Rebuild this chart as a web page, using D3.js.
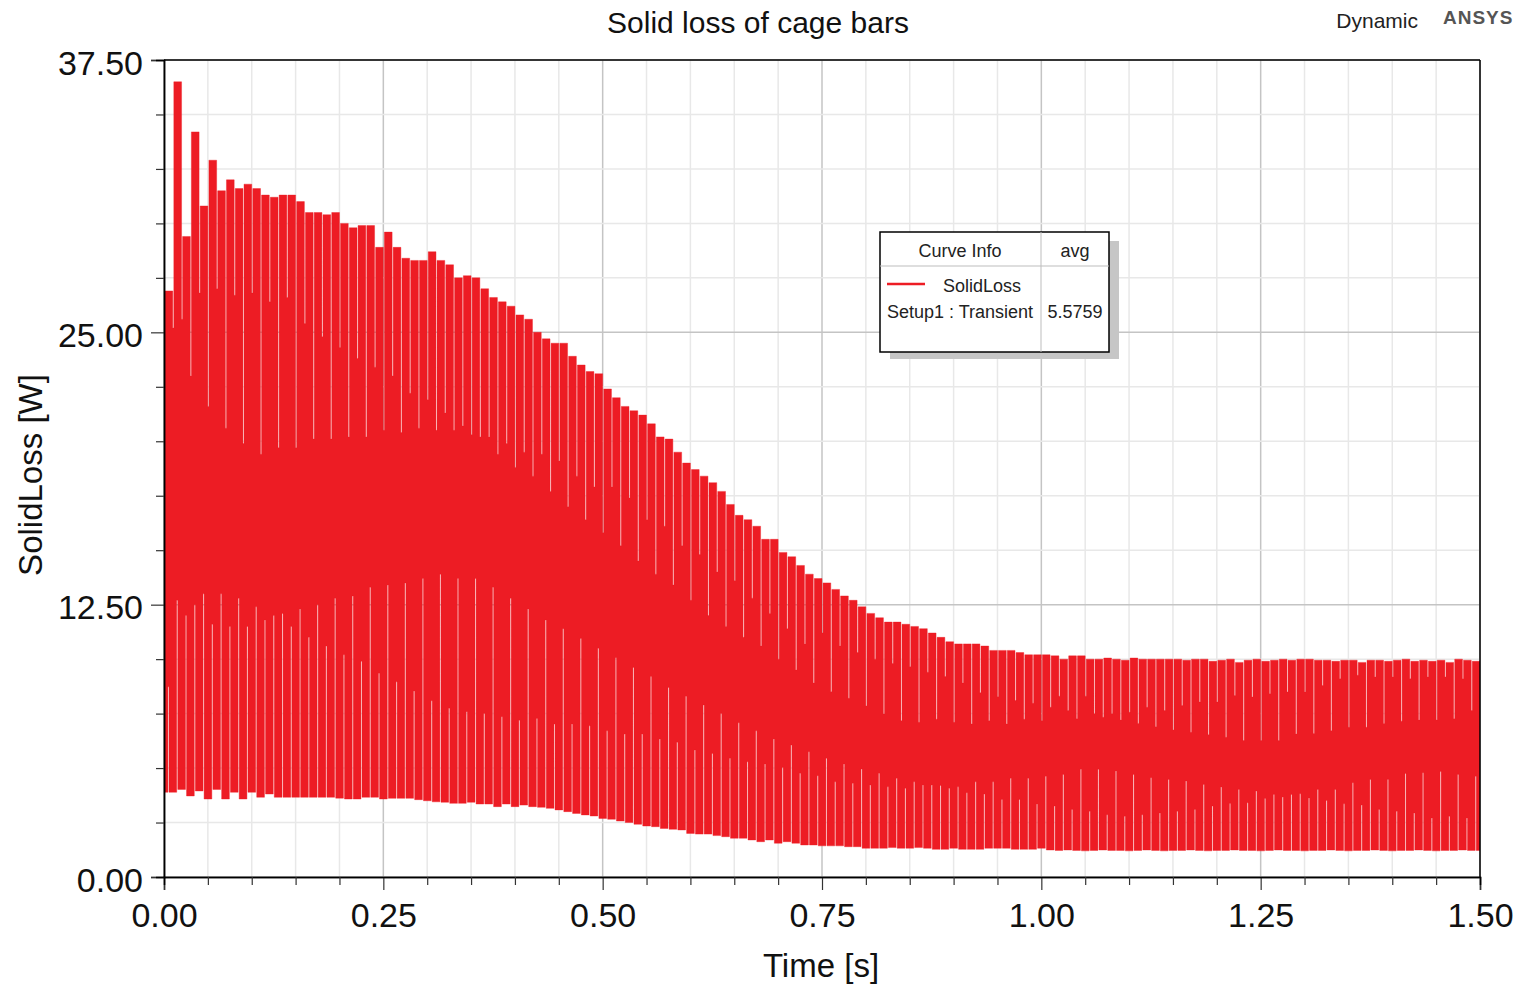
<!DOCTYPE html>
<html><head><meta charset="utf-8">
<script src="https://cdn.jsdelivr.net/npm/d3@7"></script>
<style>
body{margin:0;background:#fff;}
text{font-family:"Liberation Sans", Arial, sans-serif;}
</style>
</head><body>
<svg id="chart" width="1519" height="986"></svg>
<script>
// ---------------- data ----------------
const chartTitle = "Solid loss of cage bars";
const xLabel = "Time [s]";
const yLabel = "SolidLoss [W]";
const xMajorTicks = [0, 0.25, 0.5, 0.75, 1.0, 1.25, 1.5];
const yMajorTicks = [0, 12.5, 25, 37.5];
const legendCurve = "SolidLoss";
const legendSetup = "Setup1 : Transient";
const legendAvg = "5.5759";

// one entry per 0.01 s electrical cycle (150 cycles, 0 .. 1.5 s)
const cyclePeriod = 0.01;
const startLoss = 0;
// upper envelope: peak of each cycle [W]
const cyclePeak = [
26.9,36.5,29.4,34.2,30.8,32.9,31.5,32.0,31.6,31.8,
31.6,31.3,31.2,31.3,31.3,31.0,30.5,30.5,30.4,30.5,
30.0,29.8,29.9,29.9,28.9,29.6,28.9,28.4,28.3,28.3,
28.7,28.3,28.1,27.5,27.6,27.5,27.0,26.6,26.4,26.2,
25.8,25.6,25.0,24.7,24.5,24.5,23.9,23.5,23.2,23.1,
22.4,22.0,21.6,21.4,21.2,20.8,20.2,20.1,19.5,19.0,
18.7,18.4,18.1,17.7,17.1,16.6,16.4,16.1,15.5,15.5,
14.9,14.7,14.3,13.9,13.7,13.5,13.2,12.9,12.7,12.4,
12.1,11.9,11.7,11.7,11.6,11.5,11.4,11.2,11.0,10.8,
10.7,10.7,10.7,10.6,10.4,10.4,10.4,10.3,10.2,10.2,
10.2,10.15,10.0,10.15,10.15,10.0,10.0,10.05,10.0,9.95,
10.05,10.0,10.0,10.0,10.0,10.0,9.95,10.0,10.0,9.9,
9.95,10.0,9.85,9.95,10.0,9.9,9.95,10.0,9.95,10.0,
10.0,9.95,9.95,9.9,9.95,9.95,9.85,9.95,9.95,9.9,
9.95,10.0,9.9,9.95,9.9,9.95,9.85,10.0,9.95,9.9
];
// depth of the short drop just before each peak [W]
const cycleTopDip = [
26.9,25.2,25.6,23.0,26.8,21.6,27.0,20.6,26.7,19.9,
26.8,19.4,26.4,19.7,26.6,19.7,25.4,20.1,24.8,20.1,
24.3,20.2,23.8,20.2,23.4,20.5,23.0,20.4,22.2,20.6,
21.9,20.5,21.3,20.5,20.7,20.3,20.2,20.2,19.4,19.9,
18.8,19.5,18.4,19.4,17.7,19.1,17.0,18.4,16.4,17.9,
15.8,17.9,15.2,17.4,14.5,16.4,13.9,16.1,13.4,15.2,
12.7,14.8,12.0,14.0,11.5,13.6,11.0,12.8,10.6,12.1,
10.0,11.4,9.5,10.7,8.9,11.2,8.5,10.6,8.2,10.3,
7.85,10.0,7.48,9.8,7.17,9.65,7.1,9.4,7.24,9.2,
7.1,8.9,7.02,8.46,7.17,8.27,7.02,8.1,7.24,7.97,
7.17,7.79,8.3,7.64,7.26,8.3,7.49,7.33,7.49,7.21,
7.56,7.05,7.79,6.90,7.64,6.75,7.87,6.64,8.03,6.53,
8.03,6.41,8.33,6.26,8.26,6.26,8.41,6.26,8.49,6.56,
8.49,6.59,8.79,6.71,9.10,6.87,9.26,6.87,9.18,7.05,
9.18,7.15,9.10,7.21,9.18,7.21,9.18,7.26,9.10,7.64
];
// height of the short rise inside each trough [W]
const cycleBottomRise = [
8.73,12.7,12.0,12.5,13.0,11.6,13.0,11.5,12.8,11.5,
12.4,11.8,12.0,12.1,11.5,12.3,11.0,12.5,10.6,12.8,
10.2,12.9,9.9,13.3,9.35,13.4,8.96,13.5,8.54,13.7,
8.09,13.9,7.74,13.7,7.59,13.7,7.51,13.3,7.36,12.8,
7.2,12.3,7.28,11.8,7.02,11.4,7.02,10.95,6.94,10.5,
6.71,10.06,6.56,9.62,6.56,9.2,6.33,8.7,6.18,8.3,
5.83,7.9,5.67,7.51,5.45,7.08,5.29,6.71,5.19,6.33,
5.03,6.06,4.76,5.75,4.65,5.45,4.37,5.19,4.30,4.96,
4.22,4.76,4.14,4.53,4.07,4.37,4.22,4.22,4.2,4.07,
4.14,3.87,4.37,3.81,4.37,3.56,4.53,3.56,4.53,3.35,
4.63,3.26,4.71,3.1,4.94,3.02,4.94,2.86,4.86,2.79,
4.71,2.86,4.56,2.94,4.48,3.02,4.41,3.1,4.25,3.26,
4.13,3.37,4.02,3.41,3.95,3.6,3.79,3.67,3.79,3.82,
3.63,4.02,3.51,4.02,3.36,4.33,3.3,4.48,3.1,4.48,
3.02,4.75,2.94,4.79,2.71,4.84,2.79,4.71,2.71,4.63
];
// lower envelope: trough of each cycle [W]
const cycleTrough = [
3.89,4.02,3.72,3.95,3.58,4.02,3.58,3.89,3.58,3.89,
3.66,3.81,3.66,3.66,3.66,3.66,3.66,3.66,3.66,3.62,
3.58,3.58,3.66,3.66,3.58,3.61,3.61,3.61,3.55,3.50,
3.45,3.43,3.38,3.38,3.43,3.35,3.35,3.23,3.35,3.23,
3.30,3.23,3.20,3.15,3.08,3.0,2.92,2.85,2.80,2.69,
2.65,2.57,2.50,2.42,2.34,2.31,2.23,2.19,2.16,2.0,
1.97,1.97,1.90,1.85,1.78,1.78,1.70,1.62,1.70,1.55,
1.62,1.55,1.47,1.47,1.43,1.43,1.43,1.39,1.39,1.32,
1.32,1.32,1.35,1.32,1.32,1.35,1.32,1.27,1.27,1.32,
1.27,1.27,1.27,1.32,1.32,1.32,1.27,1.27,1.27,1.32,
1.24,1.22,1.24,1.22,1.20,1.22,1.24,1.22,1.22,1.20,
1.22,1.24,1.22,1.20,1.22,1.22,1.24,1.22,1.20,1.22,
1.22,1.24,1.22,1.22,1.20,1.22,1.24,1.22,1.22,1.20,
1.22,1.22,1.24,1.22,1.20,1.22,1.22,1.24,1.22,1.20,
1.22,1.22,1.24,1.22,1.20,1.22,1.22,1.24,1.22,1.22
];

// ---------------- drawing ----------------
const W = 1519, H = 986;
const plot = {left:164, right:1480, top:60, bottom:877};
const red = "#ed1c24";
const svg = d3.select("#chart");
svg.append("rect").attr("width", W).attr("height", H).attr("fill", "#fff");

const x = d3.scaleLinear().domain([0, 1.5]).range([plot.left, plot.right]);
const y = d3.scaleLinear().domain([0, 37.5]).range([plot.bottom, plot.top]);

const xMinor = d3.range(0, 1.5001, 0.05).map(v => +v.toFixed(2));
const yMinor = d3.range(0, 37.5001, 2.5).map(v => +v.toFixed(2));
const isMajorX = v => xMajorTicks.some(m => Math.abs(m - v) < 1e-6);
const isMajorY = v => yMajorTicks.some(m => Math.abs(m - v) < 1e-6);

// grid
const grid = svg.append("g");
grid.selectAll("line.gx").data(xMinor).enter().append("line")
  .attr("x1", d => x(d)).attr("x2", d => x(d))
  .attr("y1", plot.top).attr("y2", plot.bottom)
  .attr("stroke", d => isMajorX(d) ? "#c4c4c4" : "#e8e8e8").attr("stroke-width", 1.5);
grid.selectAll("line.gy").data(yMinor).enter().append("line")
  .attr("y1", d => y(d)).attr("y2", d => y(d))
  .attr("x1", plot.left).attr("x2", plot.right)
  .attr("stroke", d => isMajorY(d) ? "#c4c4c4" : "#e8e8e8").attr("stroke-width", 1.5);

// signal: build step breakpoints from the per-cycle arrays
const events = [];
events.push({t: 0.0005, key: "lo", v: cycleTrough[0]});
cyclePeak.forEach((p, i) => {
  const t0 = cyclePeriod * i;
  if (i > 0) events.push({t: t0, key: "up", v: cycleTopDip[i]});
  events.push({t: t0 + cyclePeriod * 0.12, key: "up", v: p});
  events.push({t: t0 + cyclePeriod * 0.45, key: "lo", v: cycleBottomRise[i]});
  events.push({t: t0 + cyclePeriod * 0.57, key: "lo", v: cycleTrough[i]});
});
events.sort((a, b) => a.t - b.t);
const state = {t: 0, up: cycleTopDip[0], lo: startLoss};
const pts = [{...state}];
events.forEach(e => {
  if (e.t > 1.5) return;
  state[e.key] = e.v;
  const last = pts[pts.length - 1];
  if (Math.abs(last.t - e.t) < 1e-9) { last[e.key] = e.v; }
  else { pts.push({t: e.t, up: state.up, lo: state.lo}); }
});
pts.push({t: 1.5, up: state.up, lo: state.lo});

svg.append("clipPath").attr("id", "clip").append("rect")
  .attr("x", plot.left).attr("y", plot.top)
  .attr("width", plot.right - plot.left).attr("height", plot.bottom - plot.top);

const area = d3.area()
  .x(d => x(d.t)).y0(d => y(d.lo)).y1(d => y(d.up))
  .curve(d3.curveStepAfter);
svg.append("path").datum(pts)
  .attr("clip-path", "url(#clip)")
  .attr("d", area)
  .attr("fill", red).attr("stroke", red).attr("stroke-width", 0.4);

// frame
svg.append("line").attr("x1", plot.left).attr("x2", plot.right).attr("y1", plot.top).attr("y2", plot.top)
  .attr("stroke", "#000").attr("stroke-width", 1.5);
svg.append("line").attr("x1", plot.right).attr("x2", plot.right).attr("y1", plot.top).attr("y2", plot.bottom)
  .attr("stroke", "#000").attr("stroke-width", 1.5);

// axes
const fmt = d3.format(".2f");
const yAxis = svg.append("g").attr("transform", `translate(${plot.left},0)`)
  .call(d3.axisLeft(y).tickValues(yMajorTicks).tickFormat(fmt).tickSize(13).tickPadding(8));
const yAxisMinor = svg.append("g").attr("transform", `translate(${plot.left},0)`)
  .call(d3.axisLeft(y).tickValues(yMinor.filter(v => !isMajorY(v))).tickFormat("").tickSize(8));
const xAxis = svg.append("g").attr("transform", `translate(0,${plot.bottom})`)
  .call(d3.axisBottom(x).tickValues(xMajorTicks).tickFormat(fmt).tickSize(13).tickPadding(10));
const xAxisMinor = svg.append("g").attr("transform", `translate(0,${plot.bottom})`)
  .call(d3.axisBottom(x).tickValues(xMinor.filter(v => !isMajorX(v))).tickFormat("").tickSize(8));
[yAxis, yAxisMinor, xAxis, xAxisMinor].forEach(g => {
  g.selectAll("path.domain").attr("stroke", "#000").attr("stroke-width", 1.5);
  g.selectAll(".tick line").attr("stroke", "#333").attr("stroke-width", 1.2);
  g.selectAll("text").attr("fill", "#111").style("font-size", "34px")
    .style("font-family", "'Liberation Sans', Arial, sans-serif");
});
yAxis.selectAll("text").attr("dy", "0.42em");
xAxis.selectAll("text").attr("dy", "0.8em");

// titles
svg.append("text").attr("x", 758).attr("y", 33).attr("text-anchor", "middle")
  .style("font-size", "30px").attr("fill", "#111").text(chartTitle);
svg.append("text").attr("x", 821).attr("y", 977).attr("text-anchor", "middle")
  .style("font-size", "33px").attr("fill", "#111").text(xLabel);
svg.append("text").attr("transform", "translate(42,475) rotate(-90)").attr("text-anchor", "middle")
  .style("font-size", "33px").attr("fill", "#111").text(yLabel);
svg.append("text").attr("x", 1418).attr("y", 28).attr("text-anchor", "end")
  .style("font-size", "21px").attr("fill", "#222").text("Dynamic");
svg.append("text").attr("x", 1443).attr("y", 24)
  .style("font-size", "19px").style("font-weight", "bold").style("letter-spacing", "1px")
  .attr("fill", "#555").text("ANSYS");

// legend (Curve Info table)
const lg = svg.append("g");
lg.append("rect").attr("x", 890).attr("y", 241).attr("width", 229).attr("height", 118).attr("fill", "#c6c6c6");
lg.append("rect").attr("x", 880).attr("y", 232).attr("width", 229).attr("height", 120)
  .attr("fill", "#fff").attr("stroke", "#000").attr("stroke-width", 1.5);
lg.append("line").attr("x1", 880).attr("x2", 1109).attr("y1", 266).attr("y2", 266).attr("stroke", "#bdbdbd");
lg.append("line").attr("x1", 1041).attr("x2", 1041).attr("y1", 232).attr("y2", 352).attr("stroke", "#bdbdbd");
lg.append("text").attr("x", 960).attr("y", 257).attr("text-anchor", "middle").style("font-size", "18px").attr("fill", "#222").text("Curve Info");
lg.append("text").attr("x", 1075).attr("y", 257).attr("text-anchor", "middle").style("font-size", "18px").attr("fill", "#222").text("avg");
lg.append("line").attr("x1", 887).attr("x2", 925).attr("y1", 284).attr("y2", 284).attr("stroke", red).attr("stroke-width", 2.5);
lg.append("text").attr("x", 943).attr("y", 292).style("font-size", "18px").attr("fill", "#222").text(legendCurve);
lg.append("text").attr("x", 887).attr("y", 318).style("font-size", "18px").attr("fill", "#222").text(legendSetup);
lg.append("text").attr("x", 1075).attr("y", 318).attr("text-anchor", "middle").style("font-size", "18px").attr("fill", "#222").text(legendAvg);
</script>
</body></html>
